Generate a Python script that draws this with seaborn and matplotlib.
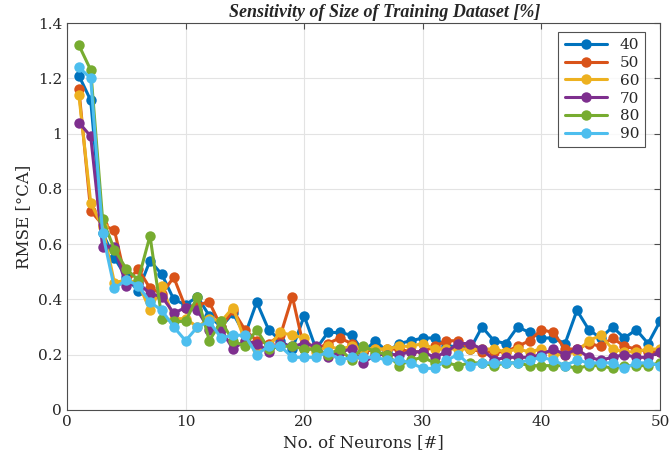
import numpy as np
import pandas as pd
import matplotlib
matplotlib.use("Agg")
import matplotlib.pyplot as plt
import seaborn as sns
from matplotlib.ticker import FuncFormatter, MultipleLocator

neurons = list(range(1, 51))

rmse_40 = [1.21, 1.12, 0.64, 0.55, 0.48, 0.43, 0.54, 0.49, 0.40, 0.38,
           0.41, 0.34, 0.30, 0.35, 0.27, 0.39, 0.29, 0.25, 0.22, 0.34,
           0.22, 0.28, 0.28, 0.27, 0.21, 0.25, 0.21, 0.24, 0.25, 0.26,
           0.26, 0.23, 0.23, 0.22, 0.30, 0.25, 0.24, 0.30, 0.28, 0.26,
           0.26, 0.24, 0.36, 0.29, 0.26, 0.30, 0.26, 0.29, 0.24, 0.32]
rmse_50 = [1.16, 0.72, 0.67, 0.65, 0.46, 0.51, 0.44, 0.42, 0.48, 0.37,
           0.38, 0.39, 0.30, 0.36, 0.29, 0.25, 0.24, 0.27, 0.41, 0.22,
           0.22, 0.24, 0.26, 0.24, 0.21, 0.22, 0.22, 0.22, 0.21, 0.21,
           0.23, 0.25, 0.25, 0.22, 0.21, 0.21, 0.21, 0.23, 0.25, 0.29,
           0.28, 0.22, 0.22, 0.24, 0.23, 0.26, 0.23, 0.22, 0.21, 0.21]
rmse_60 = [1.14, 0.75, 0.66, 0.46, 0.47, 0.46, 0.36, 0.45, 0.33, 0.33,
           0.30, 0.33, 0.32, 0.37, 0.25, 0.22, 0.23, 0.28, 0.27, 0.26,
           0.21, 0.23, 0.22, 0.23, 0.22, 0.22, 0.22, 0.23, 0.23, 0.24,
           0.22, 0.22, 0.22, 0.22, 0.22, 0.22, 0.21, 0.22, 0.21, 0.22,
           0.20, 0.20, 0.21, 0.25, 0.27, 0.22, 0.21, 0.21, 0.22, 0.22]
rmse_70 = [1.04, 0.99, 0.59, 0.59, 0.45, 0.46, 0.42, 0.41, 0.35, 0.37,
           0.36, 0.29, 0.29, 0.22, 0.25, 0.24, 0.21, 0.24, 0.23, 0.24,
           0.23, 0.19, 0.21, 0.22, 0.17, 0.20, 0.20, 0.20, 0.21, 0.21,
           0.19, 0.21, 0.24, 0.24, 0.22, 0.18, 0.19, 0.19, 0.19, 0.20,
           0.22, 0.20, 0.22, 0.19, 0.18, 0.19, 0.20, 0.19, 0.19, 0.21]
rmse_80 = [1.32, 1.23, 0.69, 0.58, 0.51, 0.47, 0.63, 0.33, 0.32, 0.32,
           0.41, 0.25, 0.32, 0.25, 0.23, 0.29, 0.22, 0.23, 0.23, 0.22,
           0.22, 0.20, 0.22, 0.18, 0.23, 0.21, 0.20, 0.16, 0.18, 0.19,
           0.17, 0.17, 0.16, 0.17, 0.17, 0.16, 0.17, 0.17, 0.16, 0.16,
           0.16, 0.16, 0.15, 0.16, 0.16, 0.15, 0.16, 0.16, 0.16, 0.17]
rmse_90 = [1.24, 1.20, 0.64, 0.44, 0.47, 0.45, 0.39, 0.36, 0.30, 0.25,
           0.30, 0.32, 0.26, 0.27, 0.27, 0.20, 0.23, 0.23, 0.19, 0.19,
           0.19, 0.21, 0.18, 0.19, 0.19, 0.19, 0.18, 0.18, 0.17, 0.15,
           0.15, 0.18, 0.20, 0.16, 0.17, 0.17, 0.17, 0.17, 0.18, 0.19,
           0.18, 0.16, 0.18, 0.17, 0.17, 0.17, 0.15, 0.17, 0.17, 0.16]

series_labels = ["40", "50", "60", "70", "80", "90"]
series_values = [rmse_40, rmse_50, rmse_60, rmse_70, rmse_80, rmse_90]
colors = ["#0072BD", "#D95319", "#EDB120", "#7E2F8E", "#77AC30", "#4DBEEE"]

df = pd.concat(
    [pd.DataFrame({"Neurons": neurons, "RMSE": vals, "Size": lab})
     for lab, vals in zip(series_labels, series_values)],
    ignore_index=True)

sns.set_style("white")
plt.rcParams['font.family'] = ['DejaVu Serif']

fig = plt.figure(figsize=(6.7, 4.61), dpi=100)
ax = fig.add_axes([0.1, 0.111, 0.885, 0.839])

sns.lineplot(data=df, x="Neurons", y="RMSE", hue="Size", hue_order=series_labels,
             palette=colors, marker="o", markersize=7.5, markeredgewidth=0,
             linewidth=2.2, ax=ax, legend=True)

ax.set_xlim(0, 50)
ax.set_ylim(0, 1.4)
ax.xaxis.set_major_locator(MultipleLocator(10))
ax.yaxis.set_major_locator(MultipleLocator(0.2))
ax.yaxis.set_major_formatter(FuncFormatter(lambda v, p: f"{v:.1f}".rstrip("0").rstrip(".") if v else "0"))
ax.grid(True, color="#e3e3e3", linewidth=0.8)
ax.set_axisbelow(True)
for s in ax.spines.values():
    s.set_color("#4d4d4d")
    s.set_linewidth(0.8)
    s.set_visible(True)
ax.tick_params(direction="in", length=4, width=0.8, color="#4d4d4d",
               top=True, right=True, labelsize=11, labelcolor="#262626")
ax.set_xlabel("No. of Neurons [#]", fontsize=12, color="#262626")
ax.set_ylabel("RMSE [°CA]", fontsize=12, color="#262626")
ax.set_title("Sensitivity of Size of Training Dataset [%]", fontsize=13,
             fontweight="bold", fontstyle="italic", pad=4, x=0.535,
             family=["Liberation Serif", "DejaVu Serif"])

leg = ax.legend(loc="upper right", bbox_to_anchor=(0.975, 0.977), fontsize=11,
                frameon=True, fancybox=False, edgecolor="#262626",
                handlelength=2.8, borderpad=0.4, labelspacing=0.25,
                borderaxespad=0)
leg.get_frame().set_linewidth(0.8)

fig.savefig("out.png", dpi=100)
